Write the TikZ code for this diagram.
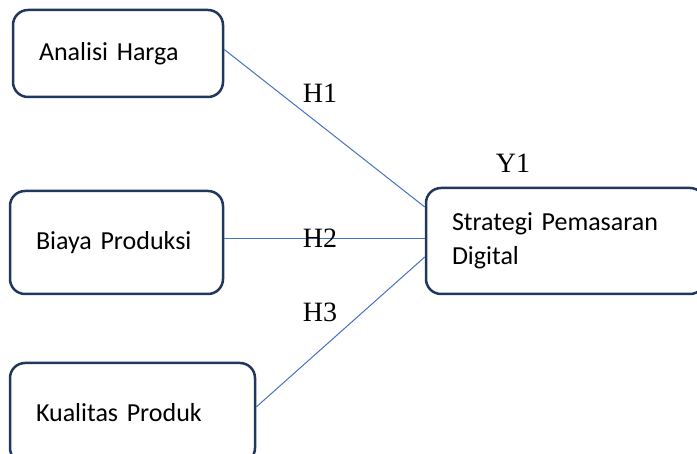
\documentclass[tikz,border=0pt]{standalone}
\usepackage{fontspec}
\setmainfont{Carlito}
\newfontfamily\labelfont{Liberation Serif}
\definecolor{boxline}{HTML}{22375E}
\definecolor{conn}{HTML}{4472C4}
\begin{document}
\begin{tikzpicture}[x=1pt,y=1pt,
  varbox/.style={draw=boxline, line width=2.5pt, rounded corners=15pt, fill=white,
    align=left, inner xsep=26pt, inner ysep=0pt, font=\fontsize{26}{35}\selectfont},
  conline/.style={draw=conn, line width=1pt},
  hlabel/.style={inner sep=0pt, font=\labelfont\fontsize{28}{30}\selectfont}]
\clip (0,0) rectangle (697,454);
\useasboundingbox (0,0) rectangle (697,454);
\node[varbox, minimum width=210pt, minimum height=87pt, text width=158pt] (b1) at (118,400.5) {Analisi Harga};
\node[varbox, minimum width=213pt, minimum height=103pt, text width=161pt] (b2) at (116.5,211.5) {Biaya Produksi};
\node[varbox, minimum width=245pt, minimum height=100pt, text width=193pt] (b3) at (132.5,41) {Kualitas Produk};
\node[varbox, minimum width=279pt, minimum height=106pt, text width=227pt] (b4) at (565.5,213) {Strategi Pemasaran\\[-1pt]Digital};
\draw[conline] ([yshift=4pt]b1.east) -- ([yshift=34pt]b4.west);
\draw[conline] ([yshift=3.5pt]b2.east) -- ([yshift=2pt]b4.west);
\draw[conline] ([yshift=6pt]b3.east) -- ([yshift=-16pt]b4.west);
\node[hlabel] (h1) at (320,361) {H1};
\node[hlabel] (h2) at (320,216) {H2};
\node[hlabel] (h3) at (320,142) {H3};
\node[hlabel] (y1) at (513,291) {Y1};
\end{tikzpicture}
\end{document}
